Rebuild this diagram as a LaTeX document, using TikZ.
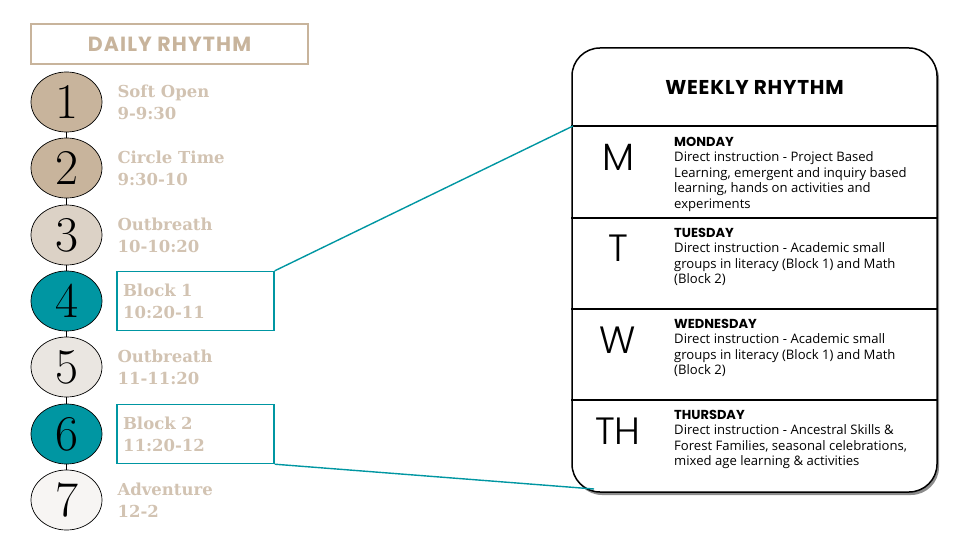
\documentclass[tikz,border=0pt]{standalone}
\usepackage{fontspec}
\usepackage{tikz}
\usetikzlibrary{positioning,shapes.geometric,shadows}
\setsansfont{Open Sans}
\newfontfamily\headfont{Poppins}
\newfontfamily\thinfont{Poppins Light}
\newfontfamily\slabfont{DejaVu Serif}
\definecolor{sand}{RGB}{200,180,156}
\definecolor{sandlight}{RGB}{210,195,178}
\definecolor{stone}{RGB}{220,210,198}
\definecolor{mist}{RGB}{234,230,225}
\definecolor{chalk}{RGB}{247,245,243}
\definecolor{lagoon}{RGB}{0,150,162}
\tikzset{
  bead/.style={ellipse,draw=black,line width=0.7pt,minimum width=71pt,minimum height=60pt,inner sep=0pt,
    font=\fontsize{50}{50}\selectfont,text=black},
  slot/.style={anchor=west,align=left,text=sandlight,inner xsep=0pt,
    font=\slabfont\bfseries\fontsize{16.5}{22}\selectfont},
  blockslot/.style={slot,draw=lagoon,line width=1.4pt,minimum width=157pt,minimum height=59pt,
    text width=145pt,inner xsep=6pt},
  dayletter/.style={font=\thinfont\fontsize{38}{38}\selectfont},
  daytext/.style={anchor=north west,align=left,inner sep=0pt,
    font=\sffamily\fontsize{13.1}{15.4}\selectfont},
}
\newcommand{\dayname}[1]{{\headfont\bfseries\fontsize{13}{15.4}\selectfont #1}}
\begin{document}
\begin{tikzpicture}[x=1pt,y=-1pt]
  \useasboundingbox (0,0) rectangle (960,540);
  % --- daily rhythm ---
  \node[draw=sand,line width=1.4pt,minimum width=277pt,minimum height=40pt,inner sep=0pt,
    text=sand,font=\headfont\bfseries\fontsize{20.5}{20.5}\selectfont\addfontfeatures{LetterSpace=5.5}]
    (daily) at (169.5,44) {DAILY RHYTHM};
  \node[bead,fill=sand]   (b1) at (66.5,102) {1};
  \node[bead,fill=sand]   (b2) at (66.5,168) {2};
  \node[bead,fill=stone]  (b3) at (66.5,235) {3};
  \node[bead,fill=lagoon] (b4) at (66.5,301) {4};
  \node[bead,fill=mist]   (b5) at (66.5,367) {5};
  \node[bead,fill=lagoon] (b6) at (66.5,434) {6};
  \node[bead,fill=chalk]  (b7) at (66.5,500) {7};
  \foreach \a/\b in {b1/b2,b2/b3,b3/b4,b4/b5,b5/b6,b6/b7}
    \draw[line width=0.7pt] (\a.south) -- (\b.north);
  \node[slot,right=15pt of b1]      (s1) {Soft Open\\9-9:30};
  \node[slot,right=15pt of b2]      (s2) {Circle Time\\9:30-10};
  \node[slot,right=15pt of b3]      (s3) {Outbreath\\10-10:20};
  \node[blockslot,right=14pt of b4] (s4) {Block 1\\10:20-11};
  \node[slot,right=15pt of b5]      (s5) {Outbreath\\11-11:20};
  \node[blockslot,right=14pt of b6] (s6) {Block 2\\11:20-12};
  \node[slot,right=15pt of b7]      (s7) {Adventure\\12-2};
  % --- weekly rhythm ---
  \node[draw,line width=1.5pt,rounded corners=28pt,minimum width=365pt,minimum height=444pt,fill=white,
    drop shadow={shadow xshift=2pt,shadow yshift=-3pt,fill=black!45,opacity=1}] (week) at (754.5,270) {};
  \node[font=\headfont\bfseries\fontsize{20}{20}\selectfont\addfontfeatures{LetterSpace=4}]
    (wtitle) at (754.5,87) {WEEKLY RHYTHM};
  \foreach \y in {126,218,309,400}
    \draw[line width=1.3pt] (week.west |- 0,\y) -- (week.east |- 0,\y);
  \node[dayletter] (lm)  at (618,157) {M};
  \node[dayletter] (lt)  at (618,248) {T};
  \node[dayletter] (lw)  at (618,340) {W};
  \node[dayletter] (lth) at (618,431) {TH};
  \node[daytext] (dm) at (674,137) {\dayname{MONDAY}\\Direct instruction - Project Based\\Learning, emergent and inquiry based\\learning, hands on activities and\\experiments};
  \node[daytext] (dt) at (674,228) {\dayname{TUESDAY}\\Direct instruction - Academic small\\groups in literacy (Block 1) and Math\\(Block 2)};
  \node[daytext] (dw) at (674,319) {\dayname{WEDNESDAY}\\Direct instruction - Academic small\\groups in literacy (Block 1) and Math\\(Block 2)};
  \node[daytext] (dth) at (674,410) {\dayname{THURSDAY}\\Direct instruction - Ancestral Skills \&\\Forest Families, seasonal celebrations,\\mixed age learning \& activities};
  % --- callouts ---
  \coordinate (wkhead) at (573,126);
  \coordinate (wkfoot) at (594,489);
  \draw[lagoon,line width=1.4pt] (s4.north east) -- (wkhead);
  \draw[lagoon,line width=1.4pt] (s6.south east) -- (wkfoot);
\end{tikzpicture}
\end{document}
